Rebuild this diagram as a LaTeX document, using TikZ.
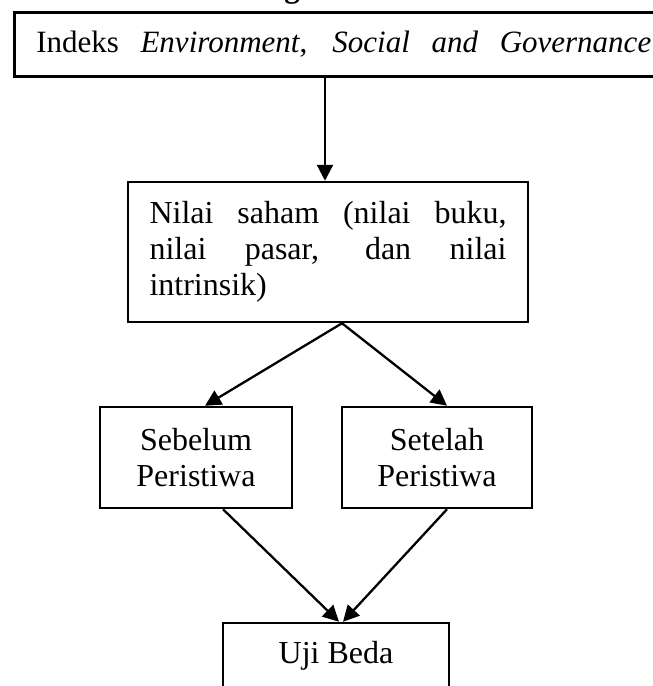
\documentclass[tikz,border=0pt]{standalone}
\usepackage{fontspec}
\setmainfont{Liberation Serif}
\usetikzlibrary{arrows.meta}
\begin{document}
\begin{tikzpicture}[x=1pt,y=-1pt,
  box/.style={draw=black, line width=2.5pt, rectangle, inner sep=0pt,
    font=\fontsize{32}{36}\selectfont},
  conn/.style={line width=2.3pt, -{Triangle[length=16pt,width=16pt]}}]
\useasboundingbox (0,0) rectangle (653,686);
\clip (0,0) rectangle (653,686);
\fill[white] (0,0) rectangle (653,686);
% cut-off heading fragment
\node[anchor=base, font=\fontsize{31}{36}\selectfont\bfseries, inner sep=0pt] (heading) at (292,-3) {g};
% top box
\node[box, anchor=north west, minimum height=64pt, inner xsep=22pt, font=\fontsize{31}{36}\selectfont] (top) at (13,11)
  {\makebox[615pt][s]{Indeks \textit{Environment}, \textit{Social} \textit{and} \textit{Governance}}};
% middle box
\node[box, minimum width=400pt, minimum height=140pt] (nilai) at (328,252)
  {\parbox{357pt}{\fontsize{32}{36}\selectfont\noindent Nilai saham (nilai buku,\linebreak nilai pasar, dan nilai\linebreak intrinsik)}};
% before / after
\node[box, minimum width=192pt, minimum height=101pt, align=center] (sebelum) at (196,457.5) {Sebelum\\Peristiwa};
\node[box, minimum width=190pt, minimum height=101pt, align=center] (setelah) at (437,457.5) {Setelah\\Peristiwa};
% test box
\node[box, minimum width=226pt, minimum height=66pt] (uji) at (336,656) {Uji Beda};
% connectors
\draw[conn] ([xshift=-3pt]top.south -| nilai.north) -- ([xshift=-3pt]nilai.north);
\draw[conn] ([xshift=14pt]nilai.south) -- ([xshift=9pt]sebelum.north);
\draw[conn] ([xshift=14pt]nilai.south) -- ([xshift=10pt]setelah.north);
\draw[conn] ([xshift=27pt]sebelum.south) -- ([xshift=3pt]uji.north);
\draw[conn] ([xshift=10pt]setelah.south) -- ([xshift=7pt]uji.north);
\end{tikzpicture}
\end{document}
